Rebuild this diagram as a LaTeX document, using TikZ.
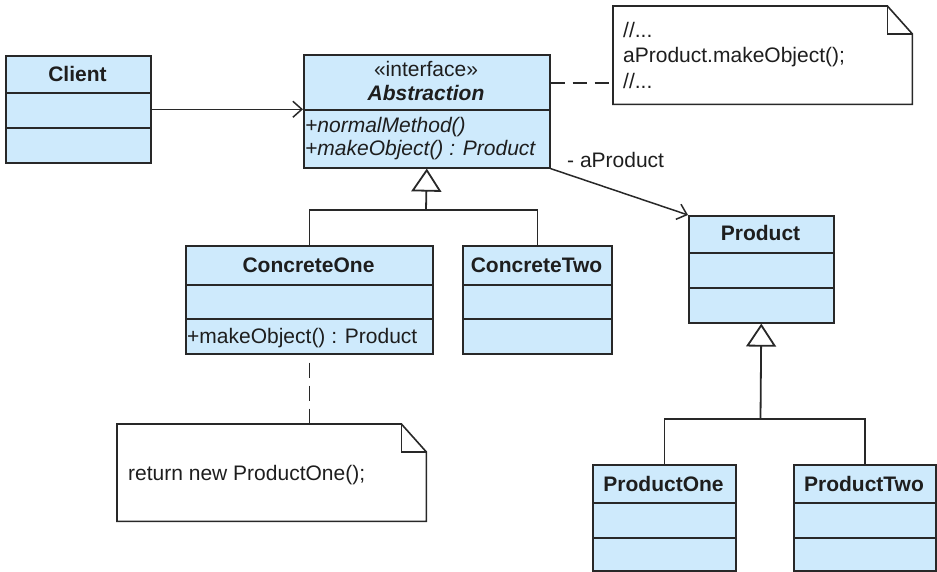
\documentclass[tikz,border=0pt]{standalone}
\usepackage{fontspec}
\setmainfont{Liberation Sans}
\usetikzlibrary{arrows.meta}
\definecolor{clsfill}{RGB}{206,234,252}
\definecolor{linec}{RGB}{40,40,40}
\definecolor{txtc}{RGB}{30,30,30}
\tikzset{
  cls/.style={draw=linec, fill=clsfill, line width=1.6pt, rectangle, inner sep=0pt, anchor=north west},
  divl/.style={draw=linec, line width=1.6pt},
  txt/.style={font=\fontsize{21}{24}\selectfont, text=txtc, inner sep=0pt, text height=15pt, text depth=0pt},
  ttl/.style={txt, font=\bfseries\fontsize{21}{24}\selectfont},
  conn/.style={draw=linec, line width=1.5pt},
  openarr/.style={conn, -{Straight Barb[length=9pt, width=16pt, line width=1.5pt]}},
  gen/.style={conn, line width=1.8pt, -{Triangle[length=23pt, width=30pt, fill=white]}},
  dashln/.style={conn, dash pattern=on 14pt off 8pt},
  notebox/.style={rectangle, inner sep=0pt, anchor=north west},
  noteline/.style={draw=linec, line width=1.6pt, line join=miter},
}
\begin{document}
\begin{tikzpicture}[x=1pt, y=-1pt]
\useasboundingbox (0,0) rectangle (937,572);

% ---------- Client ----------
\node[cls, minimum width=145pt, minimum height=107pt] (client) at (5,55) {};
\draw[divl] (5,93) -- (150,93);
\draw[divl] (5,128) -- (150,128);
\node[ttl] (clientT) at (77.5,74) {Client};

% ---------- Abstraction ----------
\node[cls, minimum width=246pt, minimum height=113pt] (abstraction) at (303,54) {};
\draw[divl] (303,110) -- (549,110);
\node[txt] (absS) at (426,69) {«interface»};
\node[ttl, font=\bfseries\itshape\fontsize{21}{24}\selectfont] (absT) at (426,93) {Abstraction};
\node[txt, anchor=west, font=\itshape\fontsize{21}{24}\selectfont] (absM1) at (305,125) {+normalMethod()};
\node[txt, anchor=west, font=\itshape\fontsize{21}{24}\selectfont] (absM2) at (305,148) {+makeObject() : Product};

% ---------- ConcreteOne ----------
\node[cls, minimum width=247pt, minimum height=108pt] (concreteone) at (185,245) {};
\draw[divl] (185,285) -- (432,285);
\draw[divl] (185,319) -- (432,319);
\node[ttl] (c1T) at (308.5,265) {ConcreteOne};
\node[txt, anchor=west] (c1M) at (187,336) {+makeObject() : Product};

% ---------- ConcreteTwo ----------
\node[cls, minimum width=149pt, minimum height=108pt] (concretetwo) at (462,245) {};
\draw[divl] (462,285) -- (611,285);
\draw[divl] (462,319) -- (611,319);
\node[ttl] (c2T) at (536.5,265) {ConcreteTwo};

% ---------- Product ----------
\node[cls, minimum width=145pt, minimum height=107pt] (product) at (688,215) {};
\draw[divl] (688,253) -- (833,253);
\draw[divl] (688,288) -- (833,288);
\node[ttl] (pT) at (760.5,233) {Product};

% ---------- ProductOne ----------
\node[cls, minimum width=143pt, minimum height=106pt] (productone) at (592,464) {};
\draw[divl] (592,503) -- (735,503);
\draw[divl] (592,538) -- (735,538);
\node[ttl] (p1T) at (663.5,484) {ProductOne};

% ---------- ProductTwo ----------
\node[cls, minimum width=142pt, minimum height=106pt] (producttwo) at (793,464) {};
\draw[divl] (793,503) -- (935,503);
\draw[divl] (793,538) -- (935,538);
\node[ttl] (p2T) at (864,484) {ProductTwo};

% ---------- Note 1 ----------
\node[notebox, minimum width=299pt, minimum height=98pt] (note1) at (613,6) {};
\draw[noteline, fill=white] (note1.north west) -- ([xshift=-25pt]note1.north east)
  -- ([yshift=-28pt]note1.north east) -- (note1.south east) -- (note1.south west) -- cycle;
\draw[noteline] ([xshift=-25pt]note1.north east) -- ([xshift=-25pt,yshift=-28pt]note1.north east)
  -- ([yshift=-28pt]note1.north east);
\node[txt, anchor=west] (n1a) at (623,30) {//...};
\node[txt, anchor=west] (n1b) at (623,55) {aProduct.makeObject();};
\node[txt, anchor=west] (n1c) at (623,81) {//...};

% ---------- Note 2 ----------
\node[notebox, minimum width=309pt, minimum height=97pt] (note2) at (117,424) {};
\draw[noteline, fill=white] (note2.north west) -- ([xshift=-25pt]note2.north east)
  -- ([yshift=-28pt]note2.north east) -- (note2.south east) -- (note2.south west) -- cycle;
\draw[noteline] ([xshift=-25pt]note2.north east) -- ([xshift=-25pt,yshift=-28pt]note2.north east)
  -- ([yshift=-28pt]note2.north east);
\node[txt, anchor=west] (n2a) at (128,473) {return new ProductOne();};

% ---------- Connectors ----------
\draw[openarr] (client.east) -- (client.east -| abstraction.west);

\coordinate (n1port) at (613,83);
\draw[dashln] (abstraction.east |- n1port) -- (n1port);

\draw[openarr] (abstraction.south east) -- (product.north west);
\node[txt, anchor=west] (assocL) at (567,160) {- aProduct};

\coordinate (abus) at (426,210);
\draw[gen] (abus) -- (abstraction.south);
\draw[conn] (concreteone.north) |- (abus) -| (concretetwo.north);

\coordinate (pbus) at (760.5,419);
\draw[gen] (pbus) -- (product.south);
\draw[conn] (productone.north) |- (pbus) -| (producttwo.north);

\draw[conn, dash pattern=on 15pt off 8pt, dash phase=15pt] (concreteone.south) -- (concreteone.south |- note2.north);
\end{tikzpicture}
\end{document}
